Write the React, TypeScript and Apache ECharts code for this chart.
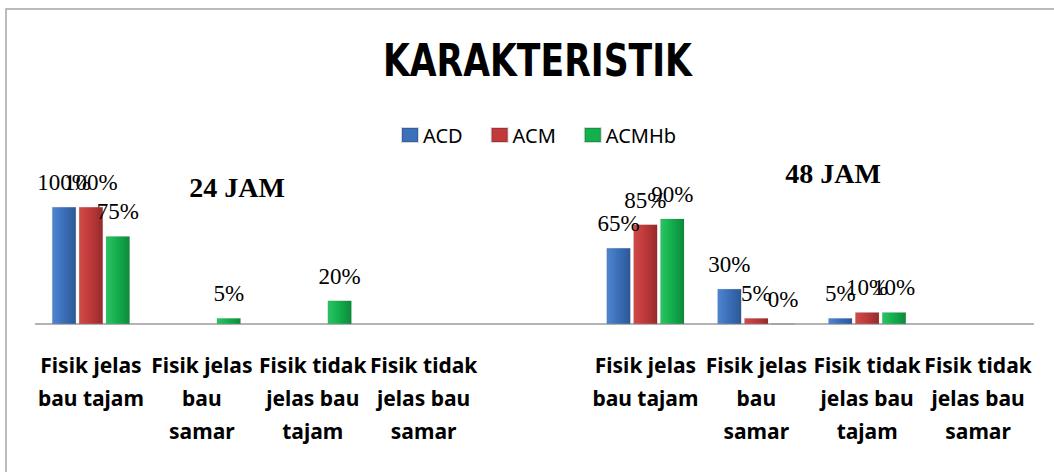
import React, { useEffect, useRef } from "react";
import * as echarts from "echarts";

const categories = [
  "Fisik jelas\nbau tajam",
  "Fisik jelas\nbau\nsamar",
  "Fisik tidak\njelas bau\ntajam",
  "Fisik tidak\njelas bau\nsamar",
  "",
  "Fisik jelas\nbau tajam",
  "Fisik jelas\nbau\nsamar",
  "Fisik tidak\njelas bau\ntajam",
  "Fisik tidak\njelas bau\nsamar",
];

const seriesNames = ["ACD", "ACM", "ACMHb"];
const acd = [100, null, null, null, null, 65, 30, 5, null];
const acm = [100, null, null, null, null, 85, 5, 10, null];
const acmhb = [75, 5, 20, null, null, 90, 0, 10, null];

const titleText = "KARAKTERISTIK";
const notes = ["24 JAM", "48 JAM"];

const grad = (l: string, m: string, r: string) =>
  new echarts.graphic.LinearGradient(0, 0, 1, 0, [
    { offset: 0, color: l },
    { offset: 0.45, color: m },
    { offset: 1, color: r },
  ]);

const colors = [
  grad("#4f86d0", "#3c70bb", "#2c5896"),
  grad("#d24a4a", "#c03a3b", "#962a2b"),
  grad("#2cc463", "#14b04e", "#0d8a3c"),
];
const legendColors = ["#3c70bb", "#c03a3b", "#14b04e"];

export default function App() {
  const ref = useRef<HTMLDivElement>(null);
  useEffect(() => {
    const chart = echarts.init(ref.current!, undefined, { renderer: "svg" });
    const data = [acd, acm, acmhb];
    chart.setOption({
      animation: false,
      backgroundColor: "#ffffff",
      legend: {
        left: 396,
        top: 120,
        itemWidth: 16,
        itemHeight: 14,
        itemGap: 28,
        icon: "rect",
        textStyle: { fontFamily: "'Noto Sans', sans-serif", fontSize: 20, color: "#000" },
        data: seriesNames.map((n, i) => ({ name: n, itemStyle: { color: legendColors[i] } })),
      },
      grid: { left: 35.5, right: 20.5, top: 207, bottom: 148 },
      xAxis: {
        type: "category",
        data: categories,
        axisLine: { lineStyle: { color: "#9a9a9a", width: 1.5 } },
        axisTick: { show: false },
        axisLabel: {
          interval: 0,
          margin: 24,
          fontFamily: "'Noto Sans', sans-serif",
          fontSize: 21,
          fontWeight: "bold",
          lineHeight: 33,
          color: "#000",
        },
      },
      yAxis: { type: "value", min: 0, max: 100, show: false, splitLine: { show: false } },
      graphic: [
        {
          type: "rect",
          shape: { x: 6, y: 9, width: 1200, height: 600 },
          style: { fill: "none", stroke: "#a6a6a6", lineWidth: 1.5 },
          silent: true,
        },
        {
          type: "text",
          x: 383,
          y: 60,
          scaleX: 0.855,
          style: {
            text: titleText,
            fontFamily: "'DejaVu Sans Condensed', 'Noto Sans', sans-serif",
            fontWeight: "bold",
            fontSize: 45,
            fill: "#000",
            align: "left",
            verticalAlign: "middle",
          },
        },
        {
          type: "text",
          x: 237,
          y: 187,
          style: {
            text: notes[0],
            fontFamily: "'Liberation Serif', serif",
            fontWeight: "bold",
            fontSize: 28,
            fill: "#000",
            align: "center",
            verticalAlign: "middle",
          },
        },
        {
          type: "text",
          x: 833,
          y: 173,
          style: {
            text: notes[1],
            fontFamily: "'Liberation Serif', serif",
            fontWeight: "bold",
            fontSize: 28,
            fill: "#000",
            align: "center",
            verticalAlign: "middle",
          },
        },
      ],
      series: seriesNames.map((n, i) => ({
        name: n,
        type: "bar",
        data: data[i],
        barWidth: 24,
        barGap: "12%",
        itemStyle: { color: colors[i], borderColor: "rgba(0,0,0,0.15)", borderWidth: 0.5 },
        label: {
          show: true,
          position: "top",
          distance: 13,
          formatter: "{c}%",
          fontFamily: "'Liberation Serif', serif",
          fontSize: 23,
          color: "#000",
        },
      })),
    });
    return () => chart.dispose();
  }, []);
  return (
    <div
      ref={ref}
      style={{ position: "absolute", left: 0, top: 0, width: 1054, height: 472 }}
    />
  );
}
